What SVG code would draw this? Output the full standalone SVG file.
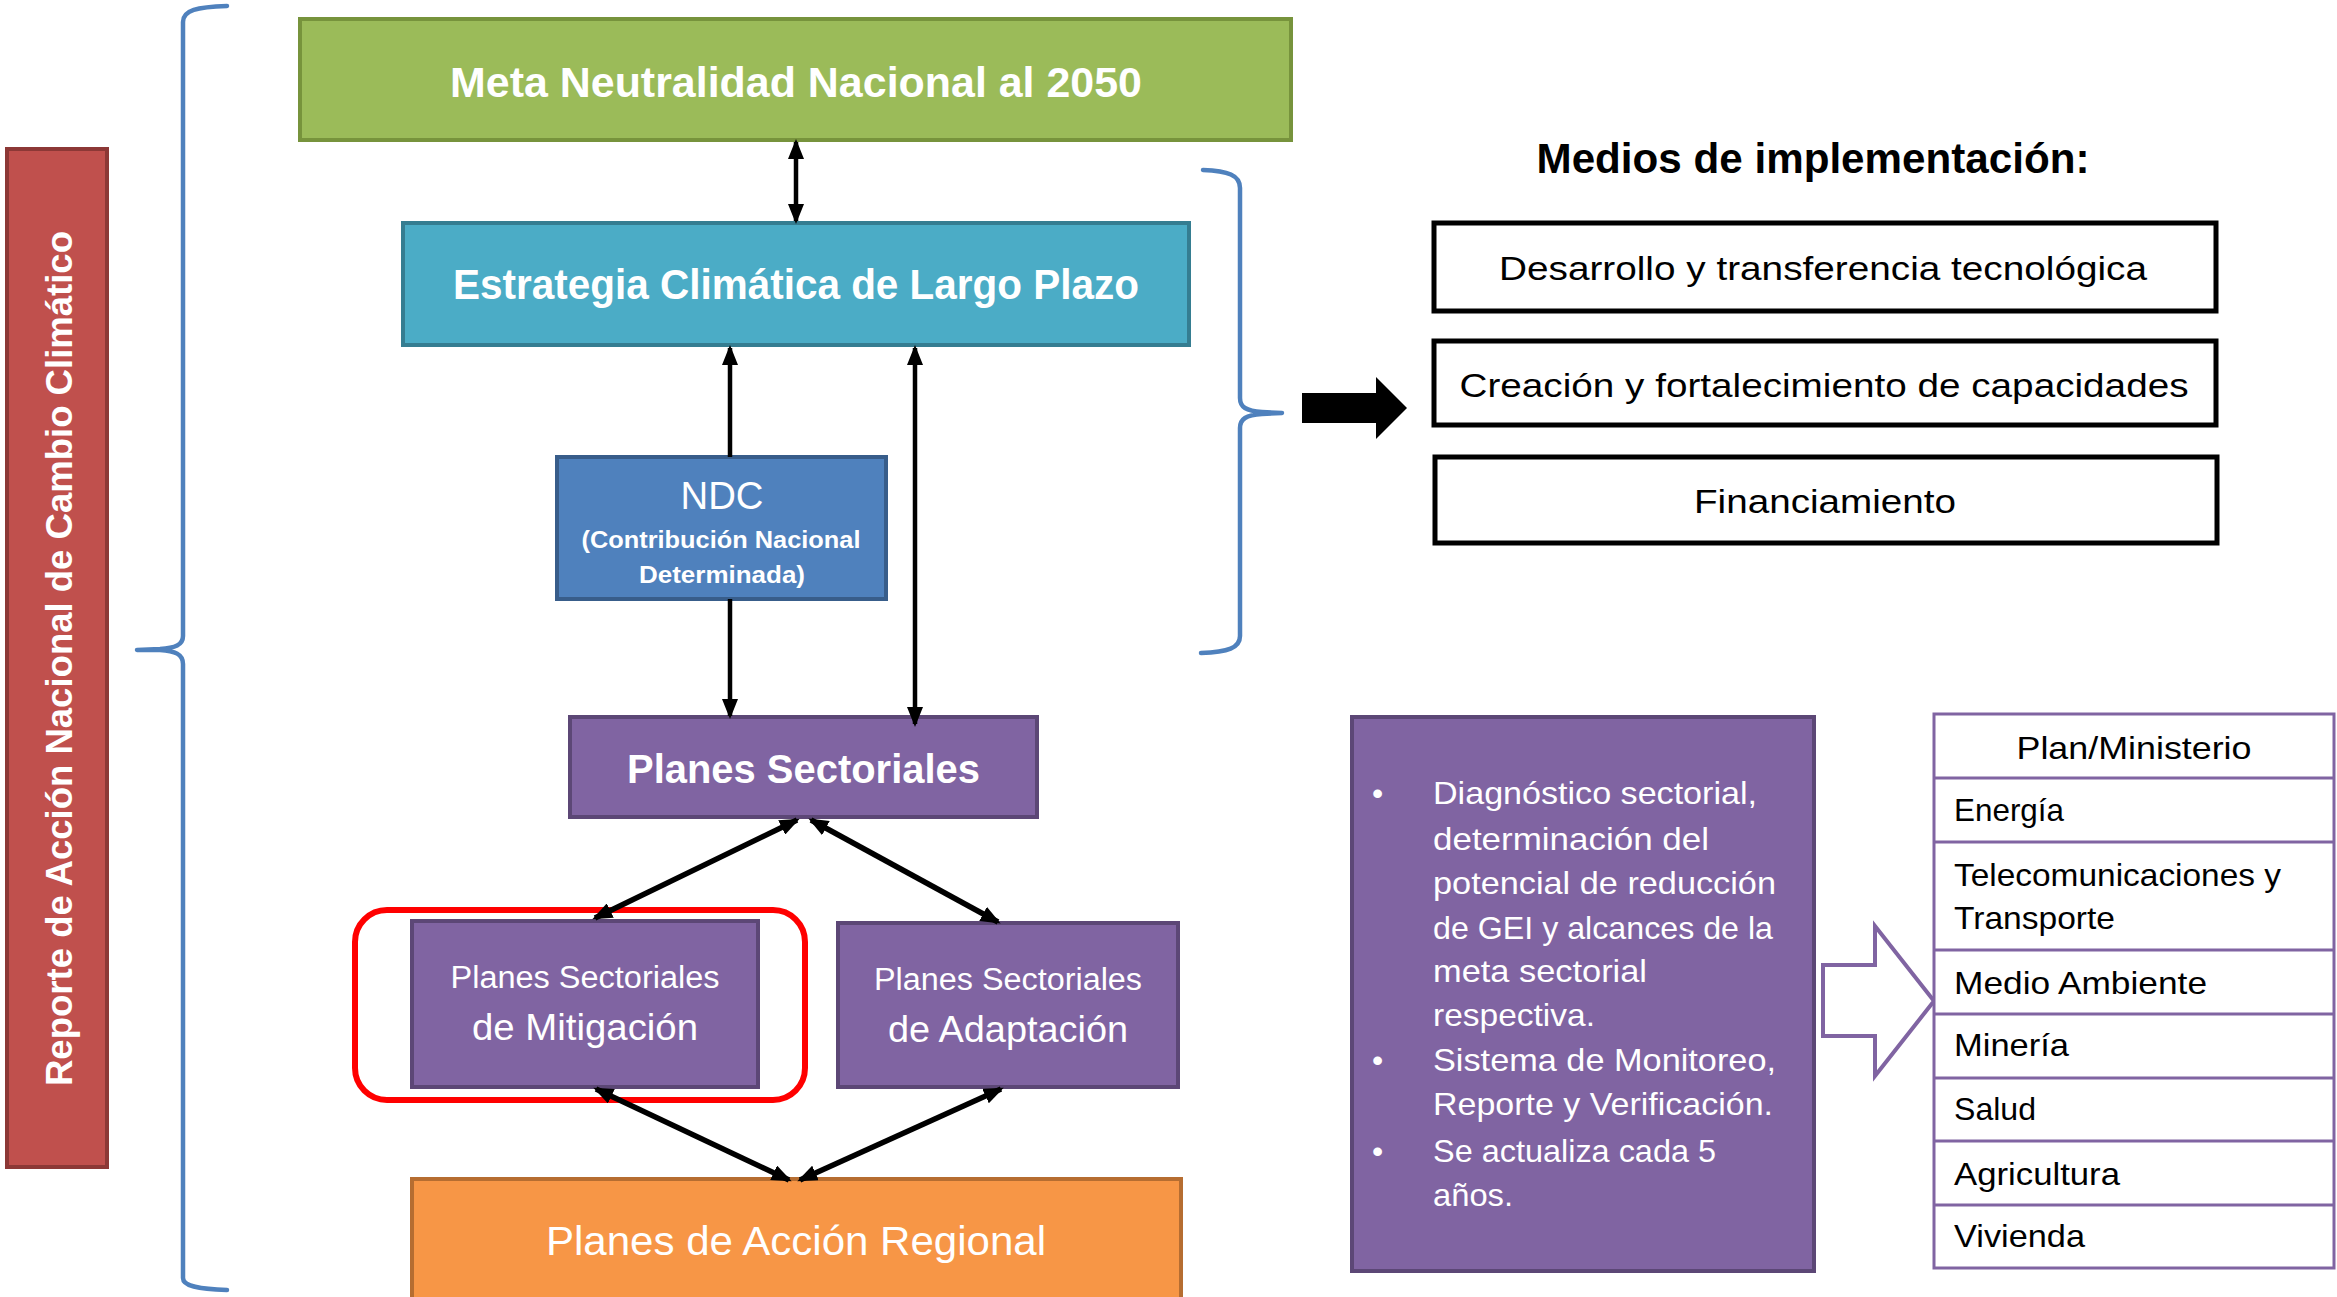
<svg xmlns="http://www.w3.org/2000/svg" width="2337" height="1297" viewBox="0 0 2337 1297">
<style>
text{font-family:"Liberation Sans",Arial,sans-serif}
.w{fill:#fff}
.k{fill:#000}
.b{font-weight:bold}
.c{text-anchor:middle}
.conn{stroke:#000;stroke-width:4.5;fill:none}
.diag{stroke:#000;stroke-width:5.5;fill:none}
.brace{stroke:#4F81BD;stroke-width:4.5;fill:none;stroke-linejoin:round;stroke-linecap:round}
.mbox{fill:#fff;stroke:#000;stroke-width:5}
.pur{fill:#8064A2;stroke:#5C4776;stroke-width:4}
.tbl{fill:none;stroke:#8064A2;stroke-width:3}
</style>
<defs>
<marker id="ah" viewBox="0 0 20 16" refX="17" refY="8" markerWidth="20" markerHeight="16" markerUnits="userSpaceOnUse" orient="auto-start-reverse">
<path d="M0,0 L20,8 L0,16 z" fill="#000"/>
</marker>
</defs>
<rect width="2337" height="1297" fill="#fff"/>

<g id="reporte">
<rect x="7" y="149" width="100" height="1018" fill="#C0504D" stroke="#8C3836" stroke-width="4"/>
<text class="w b" font-size="36" transform="translate(72,1086) rotate(-90)" textLength="855" lengthAdjust="spacingAndGlyphs">Reporte de Acción Nacional de Cambio Climático</text>
</g>

<g id="brace-left">
<path class="brace" d="M227,6 C197,7 183,10 183,22 L183,636 C183,645 175,648 160,649 L137,650 L160,650 C175,651 183,654 183,664 L183,1278 C183,1286 197,1289 227,1290"/>
</g>

<g id="brace-right">
<path class="brace" d="M1203,170 C1228,171 1240,175 1240,188 L1240,398 C1240,407 1246,411 1262,412 L1282,413 L1262,414 C1246,415 1240,419 1240,428 L1240,636 C1240,648 1228,652 1201,653"/>
</g>

<g id="meta">
<rect x="300" y="19" width="991" height="121" fill="#9BBB59" stroke="#77933C" stroke-width="4"/>
<text class="w b c" x="796" y="97" font-size="43" textLength="692" lengthAdjust="spacingAndGlyphs">Meta Neutralidad Nacional al 2050</text>
</g>

<g id="estrategia">
<rect x="403" y="223" width="786" height="122" fill="#4BACC6" stroke="#357D91" stroke-width="4"/>
<text class="w b c" x="796" y="299" font-size="42" textLength="686" lengthAdjust="spacingAndGlyphs">Estrategia Climática de Largo Plazo</text>
</g>

<g id="ndc">
<rect x="557" y="457" width="329" height="142" fill="#4F81BD" stroke="#385D8A" stroke-width="4"/>
<text class="w c" x="722" y="509" font-size="39" textLength="83" lengthAdjust="spacingAndGlyphs">NDC</text>
<text class="w b c" x="721" y="548" font-size="24" textLength="279" lengthAdjust="spacingAndGlyphs">(Contribución Nacional</text>
<text class="w b c" x="722" y="583" font-size="24" textLength="166" lengthAdjust="spacingAndGlyphs">Determinada)</text>
</g>

<g id="planes-sectoriales">
<rect x="570" y="717" width="467" height="100" class="pur"/>
<text class="w b c" x="803.5" y="783" font-size="40" textLength="353" lengthAdjust="spacingAndGlyphs">Planes Sectoriales</text>
</g>

<g id="mitigacion">
<rect x="412" y="921" width="346" height="166" class="pur"/>
<text class="w c" x="585" y="988" font-size="31" textLength="269" lengthAdjust="spacingAndGlyphs">Planes Sectoriales</text>
<text class="w c" x="585" y="1040" font-size="37" textLength="226" lengthAdjust="spacingAndGlyphs">de Mitigación</text>
</g>

<g id="highlight">
<rect x="355" y="910" width="450" height="190" rx="32" ry="32" fill="none" stroke="#FF0000" stroke-width="6"/>
</g>

<g id="adaptacion">
<rect x="838" y="923" width="340" height="164" class="pur"/>
<text class="w c" x="1008" y="990" font-size="31" textLength="268" lengthAdjust="spacingAndGlyphs">Planes Sectoriales</text>
<text class="w c" x="1008" y="1042" font-size="37" textLength="240" lengthAdjust="spacingAndGlyphs">de Adaptación</text>
</g>

<g id="regional">
<rect x="412" y="1179" width="769" height="140" fill="#F79646" stroke="#B66D31" stroke-width="4"/>
<text class="w c" x="796" y="1255" font-size="40" textLength="500" lengthAdjust="spacingAndGlyphs">Planes de Acción Regional</text>
</g>

<g id="medios-title">
<text class="k b c" x="1813" y="173" font-size="43" textLength="553" lengthAdjust="spacingAndGlyphs">Medios de implementación:</text>
</g>

<g id="medio-1">
<rect x="1434" y="223" width="782" height="88" class="mbox"/>
<text class="k c" x="1823" y="280" font-size="33" textLength="648" lengthAdjust="spacingAndGlyphs">Desarrollo y transferencia tecnológica</text>
</g>
<g id="medio-2">
<rect x="1434" y="341" width="782" height="84" class="mbox"/>
<text class="k c" x="1824" y="397" font-size="33" textLength="729" lengthAdjust="spacingAndGlyphs">Creación y fortalecimiento de capacidades</text>
</g>
<g id="medio-3">
<rect x="1435" y="457" width="782" height="86" class="mbox"/>
<text class="k c" x="1825" y="513" font-size="33" textLength="262" lengthAdjust="spacingAndGlyphs">Financiamiento</text>
</g>

<g id="flecha-medios">
<polygon points="1302,393 1376,393 1376,377 1407,408 1376,439 1376,423 1302,423" fill="#000"/>
</g>

<g id="detalle">
<rect x="1352" y="717" width="462" height="554" class="pur"/>
<g class="w" font-size="32">
<text x="1372" y="804">•</text>
<text x="1433" y="804" textLength="324" lengthAdjust="spacingAndGlyphs">Diagnóstico sectorial,</text>
<text x="1433" y="850" textLength="276" lengthAdjust="spacingAndGlyphs">determinación del</text>
<text x="1433" y="894" textLength="343" lengthAdjust="spacingAndGlyphs">potencial de reducción</text>
<text x="1433" y="939" textLength="340" lengthAdjust="spacingAndGlyphs">de GEI y alcances de la</text>
<text x="1433" y="982" textLength="214" lengthAdjust="spacingAndGlyphs">meta sectorial</text>
<text x="1433" y="1026" textLength="162" lengthAdjust="spacingAndGlyphs">respectiva.</text>
<text x="1372" y="1071">•</text>
<text x="1433" y="1071" textLength="343" lengthAdjust="spacingAndGlyphs">Sistema de Monitoreo,</text>
<text x="1433" y="1115" textLength="340" lengthAdjust="spacingAndGlyphs">Reporte y Verificación.</text>
<text x="1372" y="1162">•</text>
<text x="1433" y="1162" textLength="283" lengthAdjust="spacingAndGlyphs">Se actualiza cada 5</text>
<text x="1433" y="1206" textLength="80" lengthAdjust="spacingAndGlyphs">años.</text>
</g>
</g>

<g id="flecha-tabla">
<polygon points="1823,965 1875,965 1875,926 1934,1001 1875,1076 1875,1036 1823,1036" fill="#fff" stroke="#8064A2" stroke-width="4"/>
</g>

<g id="tabla">
<rect x="1934" y="714" width="400" height="554" fill="#fff" stroke="#8064A2" stroke-width="3"/>
<path class="tbl" d="M1934,778 H2334 M1934,842 H2334 M1934,950 H2334 M1934,1014 H2334 M1934,1078 H2334 M1934,1141 H2334 M1934,1205 H2334"/>
<g class="k" font-size="32">
<text class="c" x="2134" y="759" textLength="235" lengthAdjust="spacingAndGlyphs">Plan/Ministerio</text>
<text x="1954" y="821" textLength="110" lengthAdjust="spacingAndGlyphs">Energía</text>
<text x="1954" y="886" textLength="327" lengthAdjust="spacingAndGlyphs">Telecomunicaciones y</text>
<text x="1954" y="929" textLength="161" lengthAdjust="spacingAndGlyphs">Transporte</text>
<text x="1954" y="994" textLength="253" lengthAdjust="spacingAndGlyphs">Medio Ambiente</text>
<text x="1954" y="1056" textLength="115" lengthAdjust="spacingAndGlyphs">Minería</text>
<text x="1954" y="1120" textLength="82" lengthAdjust="spacingAndGlyphs">Salud</text>
<text x="1954" y="1185" textLength="166" lengthAdjust="spacingAndGlyphs">Agricultura</text>
<text x="1954" y="1247" textLength="131" lengthAdjust="spacingAndGlyphs">Vivienda</text>
</g>
</g>

<g id="connectors">
<line class="conn" x1="796" y1="142" x2="796" y2="221" marker-start="url(#ah)" marker-end="url(#ah)"/>
<line class="conn" x1="730" y1="457" x2="730" y2="348" marker-end="url(#ah)"/>
<line class="conn" x1="730" y1="599" x2="730" y2="716" marker-end="url(#ah)"/>
<line class="conn" x1="915" y1="348" x2="915" y2="724" marker-start="url(#ah)" marker-end="url(#ah)"/>
<line class="diag" x1="797" y1="820" x2="595" y2="918" marker-start="url(#ah)" marker-end="url(#ah)"/>
<line class="diag" x1="811" y1="820" x2="998" y2="922" marker-start="url(#ah)" marker-end="url(#ah)"/>
<line class="diag" x1="596" y1="1089" x2="789" y2="1180" marker-start="url(#ah)" marker-end="url(#ah)"/>
<line class="diag" x1="1001" y1="1089" x2="800" y2="1180" marker-start="url(#ah)" marker-end="url(#ah)"/>
</g>
</svg>
